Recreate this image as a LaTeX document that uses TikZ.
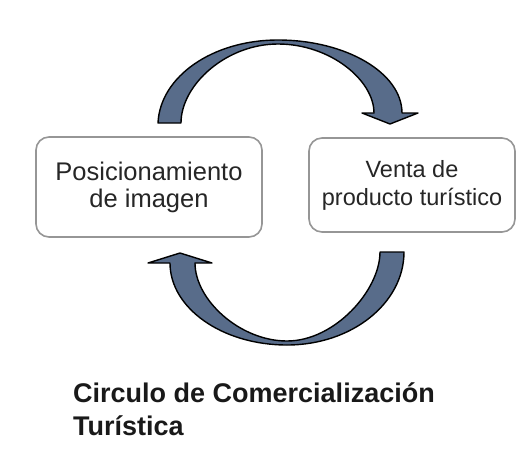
\documentclass[tikz,border=0pt]{standalone}
\usepackage{fontspec}
\setmainfont{Liberation Sans}
\usetikzlibrary{positioning}
\definecolor{arrowfill}{RGB}{88,108,138}
\definecolor{boxline}{RGB}{150,150,150}
\tikzset{
  stagebox/.style={draw=boxline,line width=1.6pt,rounded corners=13pt,fill=white,
    align=center,text=black!85},
  bentarrow/.style={fill=arrowfill,draw=black,line width=1.4pt,line join=round},
}
\begin{document}
\begin{tikzpicture}[x=1pt,y=-1pt]
\useasboundingbox (0,0) rectangle (531,475);
% cajas
\node[stagebox,minimum width=226pt,minimum height=100pt,font=\fontsize{25.5}{27}\selectfont] (pos) at (149,187) {Posicionamiento\\de imagen};
\node[stagebox,minimum width=206pt,minimum height=94pt,font=\fontsize{23.5}{28}\selectfont] (venta) at (412,185) {Venta de\\producto turístico};
% flecha superior
\draw[bentarrow] (158,123) .. controls (160,77) and (212,40) .. (278,40)
  .. controls (346,40) and (402,73) .. (402,113) -- (418,113) -- (390,124)
  -- (362,113) -- (374,113) .. controls (374,80) and (330,44) .. (278,44)
  .. controls (226,44) and (181,85) .. (181,123) -- cycle;
% flecha inferior
\draw[bentarrow] (404,252) .. controls (404,303) and (352,345) .. (287,345)
  .. controls (222,345) and (170,308) .. (170,263) -- (148,263) -- (180,253)
  -- (212,263) -- (195,263) .. controls (195,300) and (240,341) .. (287,341)
  .. controls (335,341) and (380,290) .. (380,252) -- cycle;
% titulo
\node[anchor=north west,inner sep=0pt,align=left,text=black!90,font=\fontsize{27}{33}\selectfont\bfseries] (titulo) at (73,382) {Circulo de Comercialización\\Turística};
\end{tikzpicture}
\end{document}
